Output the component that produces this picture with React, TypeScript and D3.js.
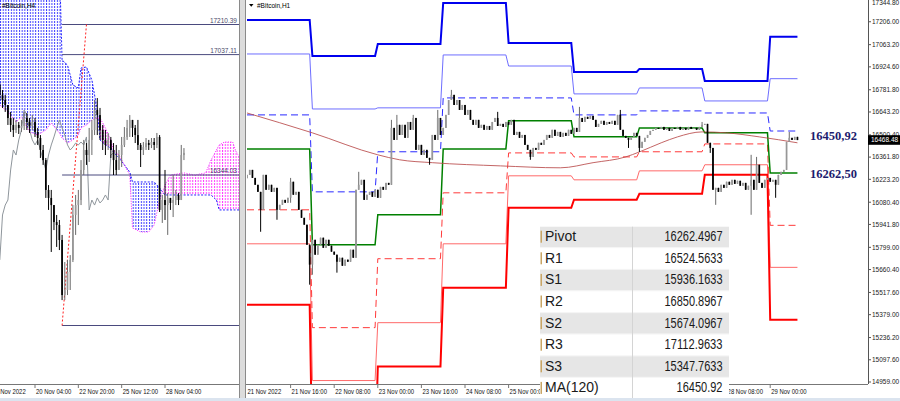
import React from 'react';
import * as d3 from 'd3';

// ---------------- LEFT PANEL (H4, Ichimoku) ----------------
const leftTimeLabels = ['18 Nov 2022', '20 Nov 04:00', '22 Nov 20:00', '25 Nov 12:00', '28 Nov 04:00'];
const leftTimePeriods = [0, 13, 29, 45, 61];
const leftFirstOpen = 16862;
const leftClose = [16805, 16776, 16747, 16672, 16632, 16603, 16632, 16615, 16626, 16672,
  16649, 16626, 16649, 16592, 16557, 16488, 16430, 16258, 16212, 16171,
  16073, 16056, 15970, 15653, 15682, 15786, 15855, 16114, 16171, 16200,
  16373, 16488, 16459, 16546, 16603, 16718, 16689, 16603, 16546, 16517,
  16546, 16488, 16430, 16373, 16459, 16517, 16563, 16615, 16661, 16615,
  16574, 16517, 16488, 16505, 16528, 16517, 16534, 16517, 16563, 16143,
  16200, 16171, 16212, 16183, 16200, 16229, 16200, 16459, 16471];
const leftHigh = [16874, 16833, 16805, 16747, 16707, 16672, 16661, 16649, 16661, 16707,
  16701, 16672, 16689, 16672, 16615, 16574, 16517, 16442, 16286, 16258,
  16171, 16114, 16085, 15999, 15843, 15855, 15883, 16171, 16229, 16258,
  16430, 16546, 16528, 16615, 16661, 16776, 16787, 16730, 16632, 16603,
  16586, 16563, 16528, 16517, 16488, 16563, 16620, 16661, 16689, 16649,
  16632, 16661, 16528, 16534, 16557, 16546, 16557, 16557, 16586, 16574,
  16229, 16373, 16240, 16212, 16344, 16258, 16240, 16517, 16499];
const leftLow = [16776, 16730, 16707, 16632, 16592, 16563, 16586, 16580, 16592, 16603,
  16603, 16586, 16603, 16563, 16517, 16442, 16402, 16212, 16143, 15901,
  16027, 15930, 15912, 15624, 15624, 15653, 15682, 15843, 15999, 16056,
  16171, 16344, 16402, 16419, 16459, 16574, 16574, 16546, 16488, 16459,
  16488, 16442, 16344, 16344, 16402, 16390, 16505, 16546, 16563, 16563,
  16528, 16488, 16390, 16459, 16488, 16488, 16499, 16488, 16499, 16131,
  16068, 16085, 15999, 16143, 16102, 16171, 16171, 16200, 16430];
const cloudPeriods = [0, 3, 6, 8, 11, 14, 17, 19, 22, 23, 25, 27, 29, 30, 32, 34, 36, 37, 39, 41, 42, 44, 46, 48, 49,
  52, 55, 57, 59, 61, 63, 68, 72, 76, 78, 80, 81, 83, 86, 87, 89];
const senkouA = [16747, 16707, 16649, 16678, 16592, 16574, 16603, 16643, 16586, 16557, 16528, 16546, 16574, 16615,
  16632, 16661, 16672, 16672, 16615, 16546, 16488, 16459, 16402, 16344, 16039, 16016, 16016, 16056, 16200, 16286,
  16344, 16356, 16344, 16356, 16430, 16488, 16517, 16534, 16534, 16488, 16430];
const senkouB = [17582, 17582, 17582, 17582, 17582, 17582, 17582, 17582, 17582, 17006, 16977, 16862, 16845, 16960,
  16966, 16891, 16718, 16546, 16517, 16499, 16476, 16442, 16402, 16361, 16304, 16304, 16304, 16304, 16269, 16229,
  16229, 16229, 16229, 16229, 16229, 16200, 16143, 16143, 16143, 16143, 16143];
const chikouShift = 26;
const fiboPrices = [17210.39, 17037.11, 16344.03];
const fiboLabels = ['17210.39', '17037.11', '16344.03'];
const fiboBase = 15477.67;
const fiboPeriods = [23, 32];

// ---------------- RIGHT PANEL (H1, pivots) ----------------
// labels whose slot lies fully under the table are not shown in the reference
const rightTimeLabels = ['21 Nov 2022', '21 Nov 16:00', '22 Nov 08:00', '23 Nov 00:00', '23 Nov 16:00', '24 Nov 08:00',
  '25 Nov 00:00', '28 Nov 08:00', '29 Nov 00:00'];
const rightTimeHours = [0, 16, 32, 48, 64, 80, 96, 176, 192];
const priceTicks = [17344.8, 17206.0, 17063.2, 16924.6, 16781.8, 16643.2, 16500.4, 16361.8, 16223.2, 16080.4,
  15941.8, 15799.0, 15660.4, 15517.6, 15379.0, 15236.2, 15097.6, 14959.0];
const rightFirstOpen = 16230;
const rightClose = [
  16251, 16282, 16232, 16189, 16145, 16033, 16251, 16158, 16189, 16145,
  16170, 16033, 16064, 16095, 16077, 16108, 16208, 16127, 16145, 16033,
  15983, 15940, 15815, 15691, 15846, 15753, 15815, 15859, 15796, 15846,
  15809, 15772, 15753, 15709, 15734, 15684, 15722, 15709, 15784, 15734,
  16158, 16189, 16220, 16095, 16127, 16145, 16114, 16158, 16108, 16176,
  16158, 16201, 16189, 16544, 16469, 16563, 16500, 16563, 16482, 16581,
  16532, 16606, 16407, 16438, 16376, 16407, 16357, 16345, 16500, 16469,
  16606, 16500, 16544, 16625, 16718, 16750, 16687, 16718, 16656, 16687,
  16625, 16656, 16594, 16563, 16594, 16544, 16563, 16532, 16556, 16532,
  16581, 16606, 16556, 16569, 16550, 16581, 16563, 16594, 16500, 16519,
  16482, 16500, 16438, 16407, 16363, 16419, 16407, 16451, 16438, 16469,
  16500, 16482, 16532, 16494, 16519, 16488, 16513, 16494, 16532, 16507,
  16544, 16519, 16606, 16581, 16613, 16600, 16619, 16594, 16550, 16569,
  16588, 16563, 16581, 16569, 16588, 16563, 16625, 16532, 16494, 16482,
  16469, 16488, 16513, 16494, 16419, 16457, 16482, 16500, 16525, 16532,
  16544, 16538, 16550, 16532, 16544, 16525, 16544, 16538, 16550, 16532,
  16544, 16532, 16550, 16538, 16544, 16532, 16550, 16563, 16569, 16451,
  16419, 16158, 16170, 16145, 16189, 16170, 16208, 16189, 16220, 16195,
  16214, 16183, 16201, 16158, 16183, 16220, 16158, 16314, 16201, 16170,
  16220, 16232, 16208, 16220, 16189, 16251, 16270, 16282, 16457, 16482,
  16469, 16488, 16468];
const wickHours = [5, 11, 16, 23, 24, 33, 41, 53, 55, 61, 67, 70, 75, 92, 104, 122, 137, 140, 144, 167, 170, 172, 185, 187, 194, 199];
const wickHighs = [16145, 16170, 16232, 15815, 15846, 15753, 16270, 16594, 16625, 16625, 16357, 16656, 16781, 16644,
  16407, 16675, 16656, 16482, 16494, 16581, 16451, 16170, 16376, 16363, 16220, 16519];
const wickLows = [15896, 15971, 16077, 15566, 15628, 15641, 16158, 16189, 16469, 16532, 16314, 16469, 16718, 16556,
  16345, 16519, 16532, 16419, 16394, 16550, 16388, 16064, 16002, 16158, 16108, 16457];
const maHours = [0, 24, 48, 56, 68, 93, 115, 127, 139, 144, 152, 158, 167, 176, 188, 202];
const maValues = [16637, 16513, 16376, 16345, 16327, 16307, 16295, 16327, 16363, 16394, 16451, 16488, 16519, 16513, 16488, 16451];
const dayStartHours = [0, 24, 48, 72, 96, 120, 144, 168, 192];
const lastHour = 202;
const levelR3 = [17217, 16993, 17067, 17323, 17074, 16893, 16912, 16837, 17112.96];
const levelR2 = [17005, 16662, 16669, 16999, 16930, 16756, 16793, 16712, 16850.9];
const levelR1 = [16625, 16145, 16395, 16731, 16731, 16625, 16650, 16637, 16524.56];
const levelP = [16413, 15815, 16002, 16413, 16588, 16488, 16544, 16513, 16262.5];
const levelS1 = [16033, 15298, 15728, 16139, 16388, 16363, 16395, 16444, 15936.16];
const levelS2 = [15821, 14968, 15329, 15821, 16245, 16220, 16276, 16314, 15674.1];
const levelS3 = [15441, 14451, 15055, 15547, 16046, 16096, 16133, 16251, 15347.76];
const tableLabels = ['Pivot', 'R1', 'S1', 'R2', 'S2', 'R3', 'S3', 'MA(120)'];
const tableValues = ['16262.4967', '16524.5633', '15936.1633', '16850.8967', '15674.0967', '17112.9633', '15347.7633', '16450.92'];
const calloutValues = [16450.92, 16262.5];
const calloutTexts = ['16450,92', '16262,50'];
const lastPrice = 16468.48;

const FONT = '"Liberation Sans", Arial, sans-serif';

export default function App() {
  // scales
  const xL = d3.scaleLinear().domain([13, 61]).range([35, 165]);
  const yL = d3.scaleLinear().domain([fiboBase, fiboPrices[0]]).range([325.5, 24.5]);
  const xR = d3.scaleLinear().domain([0, 192]).range([247, 770.2]);
  const yR = d3.scaleLinear().domain([14959, 17344.8]).range([382, -0.5]);

  // cloud
  const cloudIdx = cloudPeriods.map((_, i) => i);
  const between = d3.area<number>().x(i => xL(cloudPeriods[i])).y0(i => yL(senkouA[i])).y1(i => yL(senkouB[i]))(cloudIdx) || '';
  const aboveA = d3.area<number>().x(i => xL(cloudPeriods[i])).y0(-50).y1(i => yL(senkouA[i]))(cloudIdx) || '';
  const belowA = d3.area<number>().x(i => xL(cloudPeriods[i])).y0(i => yL(senkouA[i])).y1(450)(cloudIdx) || '';
  const lineA = d3.line<number>().x(i => xL(cloudPeriods[i])).y(i => yL(senkouA[i]))(cloudIdx) || '';
  const lineB = d3.line<number>().x(i => xL(cloudPeriods[i])).y(i => yL(senkouB[i]))(cloudIdx) || '';
  const chikou = d3.line<number>().x(i => xL(i - chikouShift)).y(i => yL(leftClose[i]))(
    leftClose.map((_, i) => i).filter(i => i >= chikouShift)) || '';

  const leftCandles = leftClose.map((c, i) => {
    const o = i === 0 ? leftFirstOpen : leftClose[i - 1];
    const hi = Math.max(leftHigh[i], o, c);
    const lo = Math.min(leftLow[i], o, c);
    return { x: xL(i), o, c, hi, lo };
  });

  const rightCandles = rightClose.map((c, i) => {
    const o = i === 0 ? rightFirstOpen : rightClose[i - 1];
    const k = wickHours.indexOf(i);
    const hi = Math.max(o, c, k >= 0 ? wickHighs[k] : -Infinity);
    const lo = Math.min(o, c, k >= 0 ? wickLows[k] : Infinity);
    return { x: xR(i), o, c, hi, lo };
  });

  const levelPath = (vals: number[]) => {
    const pts: [number, number][] = [];
    vals.forEach((v, d) => {
      const s = dayStartHours[d];
      const e = d < dayStartHours.length - 1 ? dayStartHours[d + 1] - 1 : lastHour;
      pts.push([xR(s), yR(v)], [xR(e), yR(v)]);
    });
    return d3.line()(pts) || '';
  };
  const levelStyles = [
    { vals: levelR3, color: '#0000ee', w: 2, dash: undefined },
    { vals: levelR2, color: '#6e6eff', w: 1, dash: undefined },
    { vals: levelR1, color: '#2a2aff', w: 1, dash: '7,4' },
    { vals: levelS2, color: '#ff6a6a', w: 1, dash: undefined },
    { vals: levelS1, color: '#ff3a3a', w: 1, dash: '7,4' },
    { vals: levelS3, color: '#ff0000', w: 2, dash: undefined },
    { vals: levelP, color: '#008000', w: 1.5, dash: undefined },
  ];
  const maPath = d3.line<number>().x(i => xR(maHours[i])).y(i => yR(maValues[i])).curve(d3.curveMonotoneX)(
    maHours.map((_, i) => i)) || '';

  const bodyW = 1.7;
  const candle = (cd: { x: number; o: number; c: number; hi: number; lo: number }, ys: d3.ScaleLinear<number, number>, key: number) => {
    const bull = cd.c >= cd.o;
    const top = ys(Math.max(cd.o, cd.c));
    const bot = ys(Math.min(cd.o, cd.c));
    return (
      <g key={key}>
        <line x1={cd.x} x2={cd.x} y1={ys(cd.hi)} y2={ys(cd.lo)} stroke={bull ? '#6a6a6a' : '#000'} strokeWidth={1} />
        <rect x={cd.x - bodyW / 2} y={top} width={bodyW} height={Math.max(1, bot - top)} fill={bull ? '#979797' : '#000'} />
      </g>
    );
  };

  const rowH = 21.6;
  const tableTop = 226.7;

  return (
    <svg width={900} height={401} style={{ position: 'fixed', left: 0, top: 0, background: '#fff' }} fontFamily={FONT}>
      <defs>
        <pattern id="blueDots" patternUnits="userSpaceOnUse" width={2.708} height={3}>
          <rect x={0} y={0} width={1} height={2} fill="#3c3cff" />
        </pattern>
        <pattern id="magDots" patternUnits="userSpaceOnUse" width={2.708} height={3}>
          <rect x={0} y={0} width={1} height={2} fill="#ff3cff" />
        </pattern>
        <clipPath id="clipAbove"><path d={aboveA} /></clipPath>
        <clipPath id="clipBelow"><path d={belowA} /></clipPath>
        <clipPath id="leftClip"><rect x={0} y={0} width={239} height={384} /></clipPath>
        <clipPath id="rightClip"><rect x={247} y={0} width={621} height={384} /></clipPath>
        <clipPath id="leftAxisClip"><rect x={0} y={384} width={239} height={17} /></clipPath>
      </defs>
      <rect x={0} y={0} width={900} height={401} fill="#fff" />

      {/* ---------- LEFT PANEL ---------- */}
      <g clipPath="url(#leftClip)">
        <g clipPath="url(#clipAbove)"><path d={between} fill="url(#blueDots)" /></g>
        <g clipPath="url(#clipBelow)"><path d={between} fill="url(#magDots)" /></g>
        <path d={lineB} fill="none" stroke="#2020ff" strokeWidth={1} strokeDasharray="2,1.5" />
        <path d={lineA} fill="none" stroke="#ff20ff" strokeWidth={1} strokeDasharray="1,1.5" />
        <path d={chikou} fill="none" stroke="#8f969c" strokeWidth={1} />
        {fiboPrices.concat([fiboBase]).map((p, i) => (
          <line key={i} x1={xL(fiboPeriods[0])} x2={239} y1={yL(p)} y2={yL(p)} stroke="#4a4a7e" strokeWidth={1} />
        ))}
        <line x1={xL(fiboPeriods[0])} y1={yL(fiboBase)} x2={xL(fiboPeriods[1])} y2={yL(fiboPrices[0])}
          stroke="#ff2020" strokeWidth={1} strokeDasharray="2,2" />
        {leftCandles.map((cd, i) => candle(cd, yL, i))}
        {fiboLabels.map((t, i) => (
          <text key={i} x={237} y={yL(fiboPrices[i]) - 2} fontSize={6.5} textAnchor="end" fill="#4a4a6a">{t}</text>
        ))}
        <text x={2} y={7.5} fontSize={6.5} fill="#000">#Bitcoin,H4</text>
      </g>
      <line x1={0} x2={239} y1={384.5} y2={384.5} stroke="#777" strokeWidth={1} />
      <g clipPath="url(#leftAxisClip)">
        {leftTimePeriods.map((p, i) => (
          <g key={i}>
            {i > 0 && <line x1={xL(p)} x2={xL(p)} y1={384} y2={388} stroke="#777" />}
            <text transform={`translate(${i === 0 ? -8 : xL(p) + 1},394) scale(0.85,1)`} fontSize={7} fill="#111">{leftTimeLabels[i]}</text>
          </g>
        ))}
      </g>

      {/* separator */}
      <rect x={239} y={0} width={7} height={401} fill="#dcdcdc" />
      <line x1={239.5} x2={239.5} y1={0} y2={401} stroke="#8a8a8a" />
      <line x1={245.5} x2={245.5} y1={0} y2={401} stroke="#8a8a8a" />

      {/* ---------- RIGHT PANEL ---------- */}
      <g clipPath="url(#rightClip)">
        {levelStyles.map((s, i) => (
          <path key={i} d={levelPath(s.vals)} fill="none" stroke={s.color} strokeWidth={s.w} strokeDasharray={s.dash} />
        ))}
        <path d={maPath} fill="none" stroke="#b84a4a" strokeWidth={1} opacity={0.85} />
        {rightCandles.map((cd, i) => candle(cd, yR, i))}
      </g>
      <text x={257} y={7.5} fontSize={6.5} fill="#000">#Bitcoin,H1</text>
      <path d="M249,4 L253.5,4 L251.25,6.8 Z" fill="#000" />

      {/* callouts */}
      {calloutTexts.map((t, i) => (
        <text key={i} x={810} y={yR(calloutValues[i]) + (i === 0 ? -3 : 5)} fontSize={12.5} fontWeight="bold"
          fontFamily='"Liberation Serif", "Times New Roman", serif' fill="#1c1c6e">{t}</text>
      ))}

      {/* price axis */}
      <line x1={868.5} x2={868.5} y1={0} y2={384} stroke="#555" />
      {priceTicks.map((p, i) => (
        <g key={i}>
          <line x1={868} x2={871} y1={yR(p)} y2={yR(p)} stroke="#555" />
          <text x={872} y={Math.max(yR(p) + 2.3, 4.5)} fontSize={6.5} fill="#222">{p.toFixed(2)}</text>
        </g>
      ))}
      <rect x={868} y={yR(lastPrice) - 4.8} width={32} height={9.6} fill="#000" />
      <text x={871} y={yR(lastPrice) + 2.4} fontSize={6.5} fill="#fff">{lastPrice.toFixed(2)}</text>

      {/* time axis */}
      <line x1={246} x2={868} y1={384.5} y2={384.5} stroke="#777" strokeWidth={1} />
      {rightTimeHours.map((h, i) => (
        <g key={i}>
          {i > 0 && <line x1={xR(h)} x2={xR(h)} y1={384} y2={388} stroke="#777" />}
          <text transform={`translate(${xR(h) + (i === 0 ? 0.5 : 1)},394) scale(0.85,1)`} fontSize={7} fill="#111">{rightTimeLabels[i]}</text>
        </g>
      ))}

      {/* table */}
      <g>
        <rect x={540} y={tableTop} width={189} height={rowH * tableLabels.length} fill="#fff" />
        {tableLabels.map((lab, i) => {
          const t = tableTop + i * rowH;
          return (
            <g key={i}>
              <rect x={540} y={t} width={189} height={rowH - 1} fill={i % 2 === 0 ? '#e6e6e6' : '#ffffff'} />
              <line x1={540} x2={729} y1={t + rowH - 0.5} y2={t + rowH - 0.5} stroke="#f4f4f4" />
              <rect x={540.5} y={t + 4} width={1.5} height={12} fill="#c9a564" />
              <text x={545} y={t + 14.5} fontSize={14} fill="#1a1a1a">{lab}</text>
              <text x={722.5} y={t + 14.5} fontSize={14} fill="#1a1a1a" textAnchor="end"
                textLength={i === tableLabels.length - 1 ? 46 : 58} lengthAdjust="spacingAndGlyphs">{tableValues[i]}</text>
            </g>
          );
        })}
        <line x1={632.5} x2={632.5} y1={tableTop} y2={tableTop + rowH * tableLabels.length} stroke="#d4d4d4" />
      </g>

      {/* bottom scroll band */}
      <rect x={0} y={398} width={900} height={3} fill="#dbe4ef" />
    </svg>
  );
}
